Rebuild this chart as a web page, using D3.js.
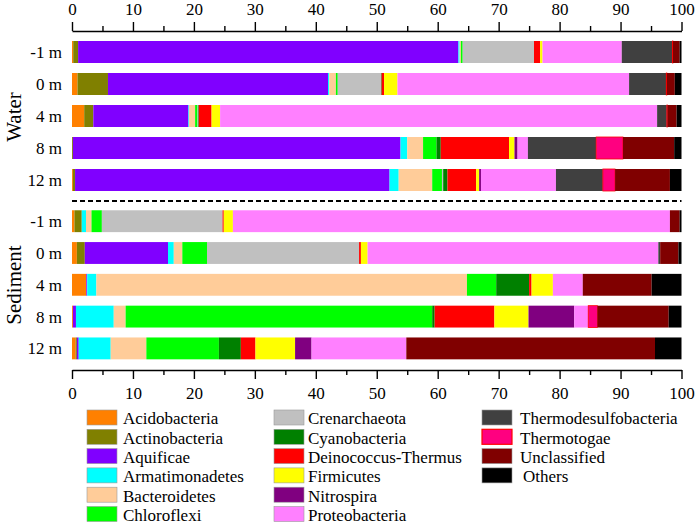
<!DOCTYPE html>
<html><head><meta charset="utf-8">
<script src="https://cdn.jsdelivr.net/npm/d3@7"></script>
<style>
html,body{margin:0;padding:0;background:#fff;}
svg{display:block;font-family:"Liberation Serif","Times New Roman",serif;}
</style></head>
<body>
<svg id="chart" width="697" height="524"></svg>
<script>
// Samples (order top to bottom)
const samples = ["W-1","W0","W4","W8","W12","S-1","S0","S4","S8","S12"];
const waterSamples = ["W-1","W0","W4","W8","W12"];
const sedimentSamples = ["S-1","S0","S4","S8","S12"];
const depthLabels = ["-1 m","0 m","4 m","8 m","12 m"];
const groupLabels = ["Water","Sediment"];
const tickValues = [0,5,10,15,20,25,30,35,40,45,50,55,60,65,70,75,80,85,90,95,100];

// Relative abundance (%) of each phylum, one value per sample in `samples` order
const Acidobacteria         = [0.2, 0.9, 2.0, 0,    0.15, 0.4, 0.8,   2.35, 0.15, 0.6];
const Actinobacteria        = [0.8, 5.0, 1.5, 0.15, 0.35, 1.2, 1.3,   0,    0,    0.2];
const Aquificae             = [62.4,36.1,15.6,53.75,51.6, 0,   13.65, 0.15, 0.5,  0.3];
const Armatimonadetes       = [0.2, 0.2, 0.1, 1.1,  1.5,  0.7, 0.95,  1.5,  6.2,  5.25];
const Bacteroidetes         = [0.2, 1.1, 1.0, 2.6,  5.5,  0.9, 1.4,   60.8, 1.95, 5.85];
const Chloroflexi           = [0.3, 0.3, 0.4, 2.2,  1.6,  1.7, 4.05,  4.8,  50.3, 11.9];
const Crenarchaeota         = [11.7,7.1, 0.1, 0,    0.2,  19.8,24.95, 0,    0,    0];
const Cyanobacteria         = [0,   0.1, 0.1, 0.7,  0.7,  0,   0,     5.4,  0.4,  3.6];
const DeinococcusThermus    = [1.0, 0.4, 2.1, 11.2, 4.7,  0.2, 0.3,   0.4,  9.8,  2.4];
const Firmicutes            = [0.4, 2.2, 1.4, 0.9,  0.5,  1.5, 1.1,   3.5,  5.6,  6.5];
const Nitrospira            = [0,   0,   0,   0.5,  0.3,  0,   0,     0,    7.5,  2.7];
const Proteobacteria        = [13.0,38.0,71.7,1.7,  12.3, 71.7,47.7,  4.9,  2.3,  15.55];
const Thermodesulfobacteria = [8.3, 6.1, 1.6, 11.2, 7.7,  0,   0.3,   0,    0,    0];
const Thermotogae           = [0.1, 0.1, 0.1, 4.4,  2.0,  0,   0,     0,    1.5,  0];
const Unclassified          = [1.1, 1.3, 1.5, 8.4,  9.0,  1.6, 3.0,   11.3, 11.7, 40.8];
const Others                = [0.3, 1.1, 0.8, 1.2,  1.9,  0.3, 0.5,   4.9,  2.1,  4.35];

const phyla = ["Acidobacteria","Actinobacteria","Aquificae","Armatimonadetes","Bacteroidetes",
  "Chloroflexi","Crenarchaeota","Cyanobacteria","Deinococcus-Thermus","Firmicutes","Nitrospira",
  "Proteobacteria","Thermodesulfobacteria","Thermotogae","Unclassified","Others"];
const phylumValues = [Acidobacteria,Actinobacteria,Aquificae,Armatimonadetes,Bacteroidetes,
  Chloroflexi,Crenarchaeota,Cyanobacteria,DeinococcusThermus,Firmicutes,Nitrospira,
  Proteobacteria,Thermodesulfobacteria,Thermotogae,Unclassified,Others];
const colors = ["#FF8000","#808000","#8000FF","#00FFFF","#FFCC99","#00FF00","#C0C0C0","#008000",
  "#FF0000","#FFFF00","#800080","#FF80FF","#404040","#FF0080","#800000","#000000"];
const strokes = {"Thermotogae":"#FF0000"};

// build table for stack
const table = samples.map((s,i)=>{
  const row = {sample:s};
  phyla.forEach((p,j)=>{ row[p] = phylumValues[j][i]; });
  return row;
});

const svg = d3.select("#chart");
const x = d3.scaleLinear().domain([0,100]).range([72,681.5]);
const yWater = d3.scaleBand().domain(waterSamples).range([36,196]).paddingInner(0.3125).paddingOuter(0.15625);
const ySed = d3.scaleBand().domain(sedimentSamples).range([205.3,364.3]).paddingInner(0.3125).paddingOuter(0.15625);
const yOf = s => waterSamples.includes(s) ? yWater(s) : ySed(s);
const bw = s => waterSamples.includes(s) ? yWater.bandwidth() : ySed.bandwidth();

const stack = d3.stack().keys(phyla);
const series = stack(table);

const gBars = svg.append("g");
series.forEach((ser,j)=>{
  gBars.append("g")
    .attr("fill", colors[j])
    .selectAll("rect")
    .data(ser.filter(d=>d[1]-d[0]>0))
    .join("rect")
    .attr("x", d=>x(d[0]))
    .attr("y", d=>yOf(d.data.sample))
    .attr("width", d=>Math.max(0.6, x(d[1])-x(d[0])))
    .attr("height", d=>bw(d.data.sample))
    .attr("stroke", strokes[phyla[j]] || "none")
    .attr("stroke-width", strokes[phyla[j]] ? 0.8 : 0);
});

// axes
function styleAxis(g, dir){
  g.select(".domain").attr("stroke","#000").attr("stroke-width",1.6);
  g.selectAll(".tick line").attr("stroke","#000").attr("stroke-width",1.4)
    .attr("y2", d => (d%10===0 ? 9 : 5) * (dir==="top"?-1:1));
  g.selectAll(".tick text").attr("font-size",17).attr("font-family","Liberation Serif").attr("fill","#000");
}
const axTop = d3.axisTop(x).tickValues(tickValues).tickSize(9).tickSizeOuter(0).tickPadding(7)
  .tickFormat(d=> d%10===0 ? d : "");
const gTop = svg.append("g").attr("transform","translate(0,31)").call(axTop);
styleAxis(gTop,"top");

const axBot = d3.axisBottom(x).tickValues(tickValues).tickSize(9).tickSizeOuter(0).tickPadding(8)
  .tickFormat(d=> d%10===0 ? d : "");
const gBot = svg.append("g").attr("transform","translate(0,370)").call(axBot);
styleAxis(gBot,"bottom");

// dashed separator
svg.append("line").attr("x1",x(0)).attr("x2",x(100)).attr("y1",201).attr("y2",201)
  .attr("stroke","#000").attr("stroke-width",2).attr("stroke-dasharray","5,3");

// depth labels
const labG = svg.append("g").attr("font-size",17).attr("text-anchor","end");
waterSamples.forEach((s,i)=>{
  labG.append("text").attr("x",62).attr("y",yWater(s)+yWater.bandwidth()/2).attr("dy","0.35em").text(depthLabels[i]);
});
sedimentSamples.forEach((s,i)=>{
  labG.append("text").attr("x",62).attr("y",ySed(s)+ySed.bandwidth()/2).attr("dy","0.35em").text(depthLabels[i]);
});
// group labels
svg.append("text").attr("transform","translate(14,117) rotate(-90)").attr("text-anchor","middle")
  .attr("dy","0.35em").attr("font-size",21).text(groupLabels[0]);
svg.append("text").attr("transform","translate(14,285) rotate(-90)").attr("text-anchor","middle")
  .attr("dy","0.35em").attr("font-size",21).text(groupLabels[1]);

// legend
const legCols = [{sx:87, tx:123},{sx:274, tx:308},{sx:482, tx:520}];
const leg = svg.append("g");
phyla.forEach((p,j)=>{
  const col = j<6 ? 0 : (j<12 ? 1 : 2);
  const row = j<6 ? j : (j<12 ? j-6 : j-12);
  const cy = 417.5 + row*19.3;
  leg.append("rect").attr("x",legCols[col].sx).attr("y",cy-7.5).attr("width",30).attr("height",15)
    .attr("fill",colors[j]).attr("stroke", strokes[p] || "#999").attr("stroke-width", strokes[p]?1.2:0.6);
  leg.append("text").attr("x",legCols[col].tx + (p==="Others"?3:0)).attr("y",cy+1).attr("dy","0.35em")
    .attr("font-size",17).text(p);
});
</script>
</body></html>
